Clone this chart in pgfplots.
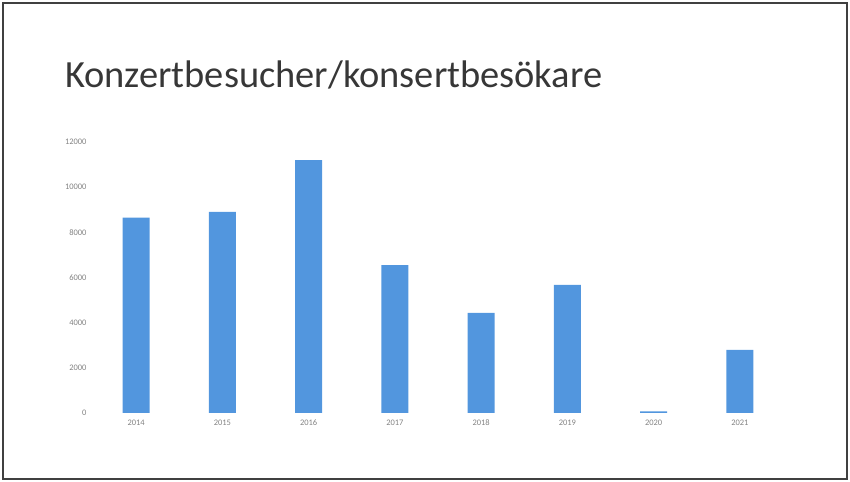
\documentclass[border=0pt]{standalone}
\usepackage{pgfplots}
\pgfplotsset{compat=1.18}
\usepackage{fontspec}
\setmainfont{Carlito}
\definecolor{barblue}{RGB}{82,150,222}
\definecolor{titlegray}{RGB}{55,55,55}
\definecolor{tickgray}{RGB}{130,130,130}
\begin{document}
\begin{tikzpicture}[x=1bp,y=1bp]
\draw[use as bounding box, draw=none] (0,0) rectangle (850,482);
\draw[line width=1.5bp, black!75] (3,3) rectangle (847,479);
\node[anchor=base west, inner sep=0, text=titlegray, font=\fontsize{38.6}{42}\selectfont] at (65,394) {Konzertbesucher/konsertbesökare};
\begin{axis}[
  at={(93bp,69bp)}, anchor=south west,
  scale only axis, width=690bp, height=271bp,
  xmin=-0.5, xmax=7.5, ymin=0, ymax=12000,
  axis line style={draw=none},
  major tick length=0pt,
  ybar, bar width=27bp,
  xtick={0,...,7},
  xticklabels={2014,2015,2016,2017,2018,2019,2020,2021},
  ytick={0,2000,...,12000},
  scaled y ticks=false,
  /pgf/number format/assume math mode=true,
  /pgf/number format/1000 sep={},
  tick label style={font=\fontsize{8.5}{10}\selectfont, text=tickgray},
  yticklabel style={xshift=-3bp},
  xticklabel style={yshift=-3bp},
]
\addplot[fill=barblue, draw=none] coordinates {
(0,8650) (1,8900) (2,11200) (3,6550) (4,4430) (5,5670) (6,70) (7,2790)
};
\end{axis}
\end{tikzpicture}
\end{document}
